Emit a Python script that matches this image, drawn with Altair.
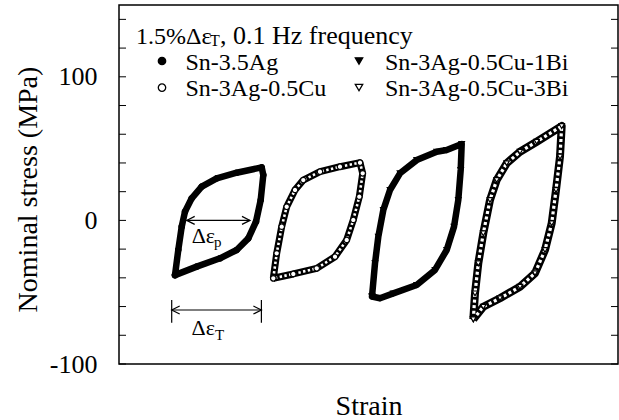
import altair as alt
import pandas as pd

FONT = "Liberation Serif"

# ---- hysteresis loops (strain: arbitrary offset units, stress: MPa), traced around each loop ----
s1_strain = [56, 59.3, 62.7, 66, 72.7, 82.7, 97.7, 117.7, 142.7,
             144.3, 141.7, 137, 129.3, 117.7, 101, 77.7, 56]
s1_stress = [-38.1, -20.5, -4.4, 6.1, 15.4, 23.5, 29.3, 33.2, 36.9,
             31.6, 14.2, -0.9, -12.5, -20.6, -26.4, -32.2, -38.1]

s2_strain = [154.3, 157.7, 162.7, 167.7, 176, 184.3, 201, 221, 241,
             243.7, 240.3, 234.3, 227.7, 216, 197.7, 174.3, 154.3]
s2_stress = [-40.3, -22.9, -4.4, 9.5, 21.2, 28.1, 33.9, 37.4, 40.2,
             32.8, 16.5, 0.3, -13.6, -25.3, -33.4, -37.3, -40.3]

s3_strain = [253, 256, 259.3, 264.3, 271, 281, 297.7, 317.7, 327.7, 342.7,
             341.7, 339.3, 335, 327.7, 316, 297.7, 274.3, 261, 253]
s3_stress = [-53, -29.9, -11.4, 7.2, 21.2, 32.8, 42, 47.8, 49, 53.2,
             35.1, 14.2, -4.4, -20.6, -34.5, -45, -50.8, -54.2, -53]

s4_strain = [354.3, 356, 359.3, 364.3, 371, 377.7, 387.7, 401, 417.7, 442.7,
             441, 437, 432.7, 426, 416, 401, 381, 364.3, 354.3]
s4_stress = [-68.9, -50.8, -29.9, -9, 14.2, 28.1, 39.8, 47.8, 54.8, 65.7,
             44.4, 21.2, -2, -20.6, -36.8, -46.2, -54.2, -60.1, -68.9]

series_names = ["Sn-3.5Ag", "Sn-3Ag-0.5Cu", "Sn-3Ag-0.5Cu-1Bi", "Sn-3Ag-0.5Cu-3Bi"]
shapes = ["circle", "circle", "triangle-down", "triangle-down"]
fills = ["black", "white", "black", "white"]

# legend layout (in data units)
leg_marker_strain = [43, 43, 240, 240]
leg_marker_stress = [111.0, 92.5, 111.0, 92.5]
leg_text_strain = [66.5, 66.5, 266, 266]
leg_text_stress = [104.4, 86.6, 104.4, 86.6]
leg_order = ["Sn-3.5Ag", "Sn-3Ag-0.5Cu", "Sn-3Ag-0.5Cu-1Bi", "Sn-3Ag-0.5Cu-3Bi"]

tick_values = [-100, -80, -60, -40, -20, 0, 20, 40, 60, 80, 100, 120, 140]

# ---- build tables ----
rows = []
for name, xs, ys in zip(series_names, [s1_strain, s2_strain, s3_strain, s4_strain],
                        [s1_stress, s2_stress, s3_stress, s4_stress]):
    for i, (a, b) in enumerate(zip(xs, ys)):
        rows.append({"series": name, "idx": i, "strain": a, "stress": b})
loops = pd.DataFrame(rows)
filled_loops = loops[loops["series"].isin(["Sn-3.5Ag", "Sn-3Ag-0.5Cu-1Bi"])]
circ_loop = loops[loops["series"] == "Sn-3Ag-0.5Cu"]
tri_loop = loops[loops["series"] == "Sn-3Ag-0.5Cu-3Bi"]

leg = pd.DataFrame({"series": leg_order, "strain": leg_marker_strain, "stress": leg_marker_stress})
leg_txt = pd.DataFrame({"label": leg_order, "strain": leg_text_strain, "stress": leg_text_stress})
ticks = pd.DataFrame({"stress": tick_values})

xscale = alt.Scale(domain=[0, 499], nice=False, zero=False)
yscale = alt.Scale(domain=[-100, 150], nice=False, zero=False)
xaxis = alt.Axis(title="Strain", labels=False, ticks=False, domain=False, grid=False,
                 titleFont=FONT, titleFontSize=28, titleFontWeight="normal", titleColor="black",
                 titleY=50, titleBaseline="alphabetic")
yaxis = alt.Axis(title="Nominal stress (MPa)", values=[-100, 0, 100], ticks=False, tickSize=0,
                 domain=False, grid=False, labelPadding=22, labelFont=FONT, labelFontSize=26,
                 labelColor="black", labelExpr="replace(datum.label, '\u2212', '-')",
                 titleFont=FONT, titleFontSize=28, titleFontWeight="normal",
                 titleColor="black", titleX=-83, titleY=184, titleAngle=-90,
                 titleBaseline="alphabetic", titleAlign="center")

X = alt.X("strain:Q", scale=xscale, axis=xaxis)
Y = alt.Y("stress:Q", scale=yscale, axis=yaxis)

shape_enc = alt.Shape("series:N", scale=alt.Scale(domain=series_names, range=shapes), legend=None)
fill_enc = alt.Fill("series:N", scale=alt.Scale(domain=series_names, range=fills), legend=None)

base = alt.Chart(loops)

filled_lines = alt.Chart(filled_loops).mark_line(color="black", strokeWidth=6.5, strokeJoin="round",
                                                 strokeCap="round").encode(
    x=X, y=Y, detail="series:N", order="idx:Q")
circ_black = alt.Chart(circ_loop).mark_line(color="black", strokeWidth=7, strokeJoin="round").encode(
    x=X, y=Y, detail="series:N", order="idx:Q")
circ_white = alt.Chart(circ_loop).mark_line(color="white", strokeWidth=2.6, strokeDash=[2.4, 2.4]).encode(
    x=X, y=Y, detail="series:N", order="idx:Q")
tri_black = alt.Chart(tri_loop).mark_line(color="black", strokeWidth=8, strokeJoin="round").encode(
    x=X, y=Y, detail="series:N", order="idx:Q")
tri_white = alt.Chart(tri_loop).mark_line(color="white", strokeWidth=3.2, strokeDash=[3, 2.6]).encode(
    x=X, y=Y, detail="series:N", order="idx:Q")
loop_pts = base.mark_point(filled=True, stroke="black", strokeWidth=1.2, size=30, opacity=1).encode(
    x=X, y=Y, shape=shape_enc, fill=fill_enc)

left_ticks = alt.Chart(ticks).mark_rule(color="black", strokeWidth=1).encode(
    y=Y, x=alt.value(0), x2=alt.value(7))
right_ticks = alt.Chart(ticks).mark_rule(color="black", strokeWidth=1).encode(
    y=Y, x=alt.value(492), x2=alt.value(499))

leg_pts = alt.Chart(leg).mark_point(filled=True, stroke="black", strokeWidth=1.3, size=55, opacity=1).encode(
    x=X, y=Y, shape=shape_enc, fill=fill_enc)
leg_texts = alt.Chart(leg_txt).mark_text(font=FONT, fontSize=24, align="left", baseline="alphabetic",
                                         color="black").encode(x=X, y=Y, text="label:N")

# title pieces: "1.5%Δε" + subscript "T" + ", 0.1 Hz frequency"
title_txt = ["1.5%Δε", "T", ", 0.1 Hz frequency"]
title_strain = [17, 91, 101]
title_stress = [122.6, 121.7, 122.6]
title_size = [24, 16, 26]
title_df = pd.DataFrame({"t": title_txt, "strain": title_strain, "stress": title_stress, "fs": title_size})
title_layer = alt.Chart(title_df).mark_text(font=FONT, align="left", baseline="alphabetic", color="black").encode(
    x=X, y=Y, text="t:N", size=alt.Size("fs:Q", scale=None, legend=None))

# annotations Δε_p and Δε_T
ann_txt = ["Δε", "p", "Δε", "T"]
ann_strain = [72.7, 95, 72.5, 96]
ann_stress = [-16.0, -18.3, -79.8, -83.3]
ann_size = [22, 15, 22, 15]
ann_df = pd.DataFrame({"t": ann_txt, "strain": ann_strain, "stress": ann_stress, "fs": ann_size})
ann_layer = alt.Chart(ann_df).mark_text(font=FONT, align="left", baseline="alphabetic", color="black").encode(
    x=X, y=Y, text="t:N", size=alt.Size("fs:Q", scale=None, legend=None))

# arrows
arr_x1 = [67.7, 52.7]
arr_x2 = [131, 142.4]
arr_y = [0, -62.4]
arr_df = pd.DataFrame({"strain": arr_x1, "strain2": arr_x2, "stress": arr_y})
arrows = alt.Chart(arr_df).mark_rule(color="black", strokeWidth=1.1).encode(
    x=X, x2="strain2:Q", y=Y)

bar_x = [52.7, 142.4]
bar_top = [-55.4, -55.4]
bar_bot = [-71.2, -71.2]
bar_df = pd.DataFrame({"strain": bar_x, "stress": bar_top, "stress2": bar_bot})
bars = alt.Chart(bar_df).mark_rule(color="black", strokeWidth=1.2).encode(
    x=X, y=Y, y2="stress2:Q")

head_left_x = [67.7, 52.7]
head_right_x = [131, 142.4]
head_y = [0, -62.4]
hl = pd.DataFrame({"strain": head_left_x, "stress": head_y})
hr = pd.DataFrame({"strain": head_right_x, "stress": head_y})
heads_l = alt.Chart(hl).mark_point(shape="M1.6,-0.8L0,0L1.6,0.8", filled=False, color="black",
                                   strokeWidth=1.2, size=100, opacity=1).encode(x=X, y=Y)
heads_r = alt.Chart(hr).mark_point(shape="M-1.6,-0.8L0,0L-1.6,0.8", filled=False, color="black",
                                   strokeWidth=1.2, size=100, opacity=1).encode(x=X, y=Y)

chart = alt.layer(
    filled_lines, circ_black, circ_white, tri_black, tri_white, loop_pts, left_ticks, right_ticks,
    leg_pts, leg_texts, title_layer, ann_layer, arrows, bars, heads_l, heads_r
).resolve_scale(shape="shared", fill="shared").properties(
    width=499, height=359,
    autosize=alt.AutoSizeParams(type="none"),
    padding={"left": 119, "top": 5, "right": 1, "bottom": 56},
    background="white",
).configure_view(stroke="black", strokeWidth=1.5)

chart.save("out.html", embed_options={"renderer": "svg", "actions": False})
